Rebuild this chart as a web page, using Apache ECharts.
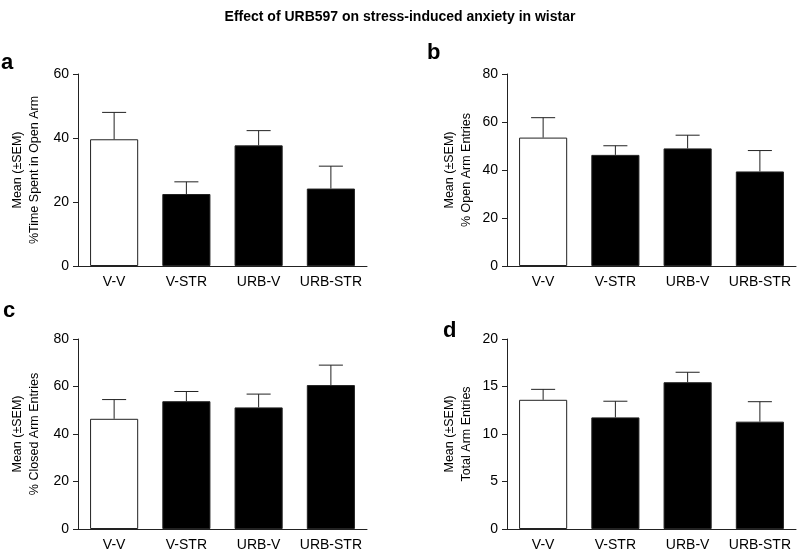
<!DOCTYPE html>
<html>
<head>
<meta charset="utf-8">
<script src="https://cdn.jsdelivr.net/npm/echarts@6/dist/echarts.min.js"></script>
<style>html,body{margin:0;padding:0;background:#fff}#c{width:800px;height:552px}</style>
</head>
<body>
<div id="c"></div>
<script>
var categories = ['V-V', 'V-STR', 'URB-V', 'URB-STR'];

var timeOpenMean = [39.6, 22.5, 37.7, 24.2];
var timeOpenSem = [8.4, 3.8, 4.6, 7.0];

var openEntriesMean = [53.5, 46.3, 49.0, 39.4];
var openEntriesSem = [8.3, 3.8, 5.5, 8.7];

var closedEntriesMean = [46.4, 53.8, 51.2, 60.6];
var closedEntriesSem = [8.1, 4.1, 5.6, 8.4];

var totalEntriesMean = [13.6, 11.75, 15.45, 11.3];
var totalEntriesSem = [1.1, 1.7, 1.05, 2.1];

var yMaxes = [60, 80, 80, 20];
var yIntervals = [20, 20, 20, 5];
var yNames = [
  'Mean (\u00b1SEM)\n%Time Spent in Open Arm',
  'Mean (\u00b1SEM)\n% Open Arm Entries',
  'Mean (\u00b1SEM)\n% Closed Arm Entries',
  'Mean (\u00b1SEM)\nTotal Arm Entries'
];
var panelLetters = ['a', 'b', 'c', 'd'];

var means = [timeOpenMean, openEntriesMean, closedEntriesMean, totalEntriesMean];
var sems = [timeOpenSem, openEntriesSem, closedEntriesSem, totalEntriesSem];

var FONT = 'Liberation Sans, Arial, sans-serif';
var AX = '#222';

var grids = [
  {left: 78, top: 74, width: 289, height: 192},
  {left: 507, top: 74, width: 289, height: 192},
  {left: 78, top: 339, width: 289, height: 192},
  {left: 507, top: 339, width: 289, height: 192}
];
var nameGaps = [35, 32, 35, 32];

var xAxes = [], yAxes = [], series = [];
for (var i = 0; i < 4; i++) {
  xAxes.push({
    type: 'category', gridIndex: i, data: categories,
    axisLine: {lineStyle: {color: AX, width: 1}},
    axisTick: {alignWithLabel: true, length: 5, lineStyle: {color: AX}},
    axisLabel: {color: '#000', fontSize: 14, fontFamily: FONT, margin: 9, interval: 0}
  });
  yAxes.push({
    type: 'value', gridIndex: i, min: 0, max: yMaxes[i], interval: yIntervals[i],
    splitLine: {show: false},
    axisLine: {show: true, lineStyle: {color: AX, width: 1}},
    axisTick: {show: true, length: 5, lineStyle: {color: AX}},
    axisLabel: {color: '#000', fontSize: 14, fontFamily: FONT, margin: 9},
    name: yNames[i], nameLocation: 'middle', nameRotate: 90, nameGap: nameGaps[i],
    nameTextStyle: {color: '#000', fontSize: 12.5, fontFamily: FONT, lineHeight: 17}
  });
  series.push({
    type: 'bar', xAxisIndex: i, yAxisIndex: i, barWidth: '66.6%',
    data: means[i].map(function (v, k) {
      return {value: v, itemStyle: {color: k === 0 ? '#fff' : '#000', borderColor: AX, borderWidth: 1}};
    }),
    animation: false
  });
  (function (idx) {
    series.push({
      type: 'custom', xAxisIndex: idx, yAxisIndex: idx, z: 5,
      data: means[idx].map(function (v, k) { return [k, v, v + sems[idx][k]]; }),
      renderItem: function (params, api) {
        var p0 = api.coord([api.value(0), api.value(1)]);
        var p1 = api.coord([api.value(0), api.value(2)]);
        var bw = api.size([1, 0])[0];
        var hw = bw * 0.666 / 4;
        return {
          type: 'group',
          children: [
            {type: 'line', shape: {x1: p0[0], y1: p0[1], x2: p1[0], y2: p1[1]}, style: {stroke: AX, lineWidth: 1}},
            {type: 'line', shape: {x1: p1[0] - hw, y1: p1[1], x2: p1[0] + hw, y2: p1[1]}, style: {stroke: AX, lineWidth: 1}}
          ]
        };
      },
      animation: false
    });
  })(i);
}

var letterPos = [[1, 52], [427, 42], [3, 300], [443, 320]];
var graphics = panelLetters.map(function (t, k) {
  return {type: 'text', left: letterPos[k][0], top: letterPos[k][1],
    style: {text: t, font: 'bold 22px ' + FONT, fill: '#000'}};
});

var chart = echarts.init(document.getElementById('c'), null, {renderer: 'canvas'});
chart.setOption({
  backgroundColor: '#fff',
  animation: false,
  title: {
    text: 'Effect of URB597 on stress-induced anxiety in wistar',
    left: 'center', top: 5,
    textStyle: {fontSize: 14, fontWeight: 'bold', color: '#000', fontFamily: FONT}
  },
  graphic: graphics,
  grid: grids,
  xAxis: xAxes,
  yAxis: yAxes,
  series: series
});
</script>
</body>
</html>
